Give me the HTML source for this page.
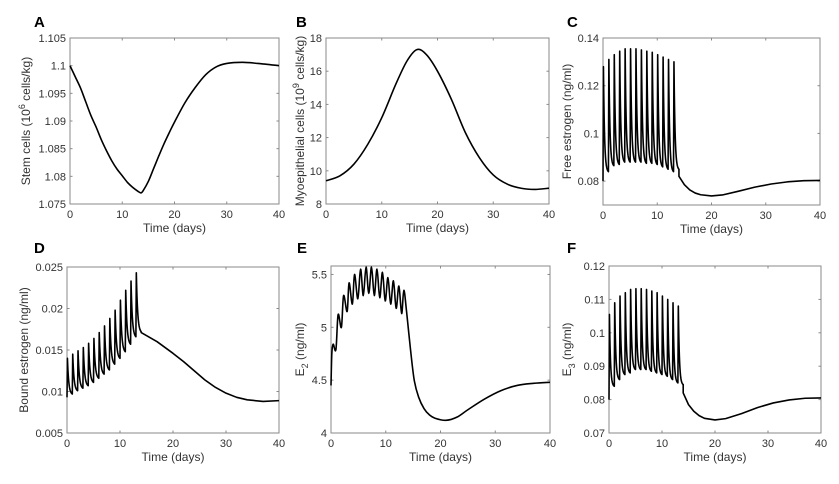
<!DOCTYPE html>
<html><head><meta charset="utf-8">
<style>
html,body{margin:0;padding:0;background:#fff;}
svg{display:block;font-family:"Liberation Sans",sans-serif;}
</style></head>
<body>
<svg id="fig" width="839" height="484" viewBox="0 0 839 484" xmlns="http://www.w3.org/2000/svg"></svg>
<script>
// ---------- data ----------
const xTicks = [0,10,20,30,40];
// Panel A: stem cells
const aT = [0,1,2,3,4,5,6,7,8,9,10,11,12,13,13.6,14,15,16,17,18,19,20,22,24,26,28,30,33,36,40];
const aV = [1.1,1.098,1.096,1.0935,1.091,1.0889,1.0866,1.0846,1.0828,1.0813,1.0801,1.0789,1.078,1.0773,1.077,1.0774,1.0791,1.0814,1.0837,1.0859,1.0879,1.0898,1.0933,1.0961,1.0984,1.0998,1.1004,1.1006,1.1004,1.1];
const aTicks = [1.075,1.08,1.085,1.09,1.095,1.1,1.105];
// Panel B: myoepithelial
const bT = [0,2.5,5,7.5,10,12.5,14.5,16.3,18,20,22.5,25,27.5,30,32.5,35,37.5,40];
const bV = [9.4,9.7,10.4,11.6,13.2,15.2,16.6,17.3,17.0,16.0,14.3,12.3,10.8,9.75,9.2,8.95,8.88,8.95];
const bTicks = [8,10,12,14,16,18];
// Panel C: free estrogen (spikes at t=0..13)
const cStart = 0.08;
const cPeaks = [0.128,0.131,0.133,0.1345,0.1355,0.1355,0.1355,0.135,0.1345,0.134,0.133,0.132,0.131,0.130];
const cTroughs = [0.084,0.0865,0.087,0.088,0.088,0.088,0.088,0.0875,0.0875,0.087,0.086,0.085,0.084,0.085];
const cTailT = [14,15,16,17,18,20,22,25,28,31,34,37,40];
const cTailV = [0.082,0.0785,0.0763,0.0750,0.0743,0.0738,0.0742,0.0758,0.0775,0.0788,0.0797,0.0802,0.0803];
const cTicks = [0.08,0.1,0.12,0.14];
// Panel D: bound estrogen
const dStart = 0.0093;
const dPeaks = [0.014,0.0145,0.0149,0.0153,0.0158,0.0164,0.0171,0.0179,0.0188,0.0198,0.021,0.0222,0.0233,0.0243];
const dTroughs = [0.0097,0.0101,0.0104,0.0107,0.0111,0.0116,0.0121,0.0126,0.0133,0.014,0.0148,0.0157,0.0166,0.0172];
const dTailT = [14,17,20,22,24,26,28,30,32,34,37,40];
const dTailV = [0.0171,0.016,0.0146,0.0136,0.0125,0.0114,0.0105,0.0098,0.0093,0.009,0.0088,0.0089];
const dTicks = [0.005,0.01,0.015,0.02,0.025];
// Panel E: E2
const eT = [0,0.15,0.4,0.9,1.3,1.9,2.3,2.95,3.3,3.9,4.3,4.9,5.4,5.9,6.4,6.9,7.4,7.9,8.4,8.9,9.4,9.9,10.4,10.9,11.4,11.9,12.4,12.9,13.3,13.8,14.5,15.2,16,17,18,19,21,23,25,28,31,34,37,40];
const eV = [4.45,4.75,4.84,4.79,5.12,5.0,5.3,5.15,5.42,5.22,5.5,5.27,5.55,5.3,5.57,5.32,5.57,5.3,5.55,5.28,5.52,5.25,5.47,5.22,5.44,5.18,5.39,5.13,5.35,5.15,4.8,4.5,4.34,4.23,4.17,4.14,4.12,4.15,4.22,4.32,4.4,4.45,4.47,4.48];
const eTicks = [4,4.5,5,5.5];
// Panel F: E3
const fStart = 0.08;
const fPeaks = [0.1055,0.109,0.111,0.112,0.113,0.1132,0.1132,0.113,0.1125,0.112,0.111,0.110,0.109,0.108];
const fTroughs = [0.084,0.086,0.0875,0.088,0.089,0.089,0.089,0.0885,0.088,0.0875,0.087,0.086,0.085,0.0845];
const fTailT = [14,15,16,17,18,20,22,25,28,31,34,37,40];
const fTailV = [0.082,0.0785,0.0765,0.0752,0.0744,0.0739,0.0743,0.0758,0.0776,0.079,0.0799,0.0804,0.0805];
const fTicks = [0.07,0.08,0.09,0.1,0.11,0.12];

// ---------- drawing ----------
const NS = "http://www.w3.org/2000/svg";
const svg = document.getElementById('fig');
function mk(tag, attrs, parent){
  const e = document.createElementNS(NS, tag);
  for (const k in attrs) e.setAttribute(k, attrs[k]);
  (parent||svg).appendChild(e); return e;
}
function spikeSeries(start, peaks, troughs, tailT, tailV, tau){
  const pts = [[0,start]];
  for (let k=0;k<peaks.length;k++){
    const pk = peaks[k], tr = troughs[k];
    pts.push([k+0.08, pk]);
    const L = 0.92, eL = Math.exp(-L/tau);
    for (let s=0.02; s<=L+1e-9; s+=0.02){
      const v = tr + (pk-tr)*(Math.exp(-s/tau)-eL)/(1-eL);
      pts.push([k+0.08+s, v]);
    }
  }
  for (let i=0;i<tailT.length;i++) pts.push([tailT[i], tailV[i]]);
  return pts;
}
function smoothPath(ts, vs, X, Y){
  const P = ts.map((t,i)=>[X(t),Y(vs[i])]);
  let d = 'M'+P[0][0].toFixed(2)+','+P[0][1].toFixed(2);
  for (let i=0;i<P.length-1;i++){
    const p0=P[Math.max(i-1,0)], p1=P[i], p2=P[i+1], p3=P[Math.min(i+2,P.length-1)];
    const c1=[p1[0]+(p2[0]-p0[0])/6, p1[1]+(p2[1]-p0[1])/6];
    const c2=[p2[0]-(p3[0]-p1[0])/6, p2[1]-(p3[1]-p1[1])/6];
    d+=' C'+c1[0].toFixed(2)+','+c1[1].toFixed(2)+' '+c2[0].toFixed(2)+','+c2[1].toFixed(2)+' '+p2[0].toFixed(2)+','+p2[1].toFixed(2);
  }
  return d;
}
function panel(o){
  const g = mk('g',{});
  
  
  const X = t => o.x0 + (t-0)/(40-0)*(o.x1-o.x0);
  const Y = v => o.y1 - (v-o.ymin)/(o.ymax-o.ymin)*(o.y1-o.y0);
  const bg = mk('rect',{x:o.x0,y:o.y0,width:o.x1-o.x0,height:o.y1-o.y0,fill:'#fff',stroke:'#8a8a8a','stroke-width':1},g);
  
  
  xTicks.forEach(t=>{
    const x=X(t);
    mk('line',{x1:x,y1:o.y1,x2:x,y2:o.y1-2.5,stroke:'#8a8a8a'},g);
    mk('line',{x1:x,y1:o.y0,x2:x,y2:o.y0+2.5,stroke:'#8a8a8a'},g);
    const tx=mk('text',{x:x,y:o.y1+14,'font-size':11,fill:'#333','text-anchor':'middle'},g);
    tx.textContent=t;
    
    
  });
  o.yTicks.forEach(v=>{
    const y=Y(v);
    mk('line',{x1:o.x0,y1:y,x2:o.x0+2.5,y2:y,stroke:'#8a8a8a'},g);
    mk('line',{x1:o.x1,y1:y,x2:o.x1-2.5,y2:y,stroke:'#8a8a8a'},g);
    const tx=mk('text',{x:o.x0-4,y:y+4,'font-size':11,fill:'#333','text-anchor':'end'},g);
    tx.textContent=String(v);
    
    
  });
  const xl=mk('text',{x:(o.x0+o.x1)/2,y:o.y1+28,'font-size':12,fill:'#333','text-anchor':'middle'},g);
  xl.textContent='Time (days)';
  
  
  const yl=mk('text',{x:0,y:0,'font-size':12,fill:'#333','text-anchor':'middle',transform:'translate('+(o.ylx)+','+((o.y0+o.y1)/2)+') rotate(-90)'},g);
  yl.innerHTML=o.ylabel;
  
  
  const lt=mk('text',{x:o.lx,y:o.ly,'font-size':15,'font-weight':'bold',fill:'#000'},g);
  lt.textContent=o.letter;
  
  
  let d;
  if (o.pts){
    d = o.pts.map((p,i)=>(i?'L':'M')+X(p[0]).toFixed(2)+','+Y(p[1]).toFixed(2)).join(' ');
  } else d = smoothPath(o.ts, o.vs, X, Y);
  const line=mk('path',{d:d,fill:'none',stroke:'#000','stroke-width':1.6,'stroke-linejoin':'round'},g);
  
  
}
panel({name:'panel-a-stem-cells',letter:'A',lx:34,ly:27,x0:70,x1:279,y0:38,y1:204,ymin:1.075,ymax:1.105,yTicks:aTicks,ts:aT,vs:aV,ylx:30,
  ylabel:'Stem cells (10<tspan dy="-5" font-size="9">6</tspan><tspan dy="5"> cells/kg)</tspan>'});
panel({name:'panel-b-myoepithelial',letter:'B',lx:296,ly:27,x0:326,x1:549,y0:38,y1:204,ymin:8,ymax:18,yTicks:bTicks,ts:bT,vs:bV,ylx:304,
  ylabel:'Myoepithelial cells (10<tspan dy="-5" font-size="9">9</tspan><tspan dy="5"> cells/kg)</tspan>'});
panel({name:'panel-c-free-estrogen',letter:'C',lx:567,ly:27,x0:603,x1:820,y0:38,y1:205,ymin:0.07,ymax:0.14,yTicks:cTicks,
  pts:spikeSeries(cStart,cPeaks,cTroughs,cTailT,cTailV,0.2),ylx:571,ylabel:'Free estrogen (ng/ml)'});
panel({name:'panel-d-bound-estrogen',letter:'D',lx:34,ly:253,x0:67,x1:279,y0:267,y1:433,ymin:0.005,ymax:0.025,yTicks:dTicks,
  pts:spikeSeries(dStart,dPeaks,dTroughs,dTailT,dTailV,0.25),ylx:28,ylabel:'Bound estrogen (ng/ml)'});
panel({name:'panel-e-e2',letter:'E',lx:297,ly:253,x0:331,x1:550,y0:266,y1:433,ymin:4,ymax:5.58,yTicks:eTicks,ts:eT,vs:eV,ylx:304,
  ylabel:'E<tspan dy="4" font-size="9">2</tspan><tspan dy="-4"> (ng/ml)</tspan>'});
panel({name:'panel-f-e3',letter:'F',lx:567,ly:253,x0:609,x1:821,y0:266,y1:433,ymin:0.07,ymax:0.12,yTicks:fTicks,
  pts:spikeSeries(fStart,fPeaks,fTroughs,fTailT,fTailV,0.2),ylx:571,
  ylabel:'E<tspan dy="4" font-size="9">3</tspan><tspan dy="-4"> (ng/ml)</tspan>'});
</script>
</body></html>
